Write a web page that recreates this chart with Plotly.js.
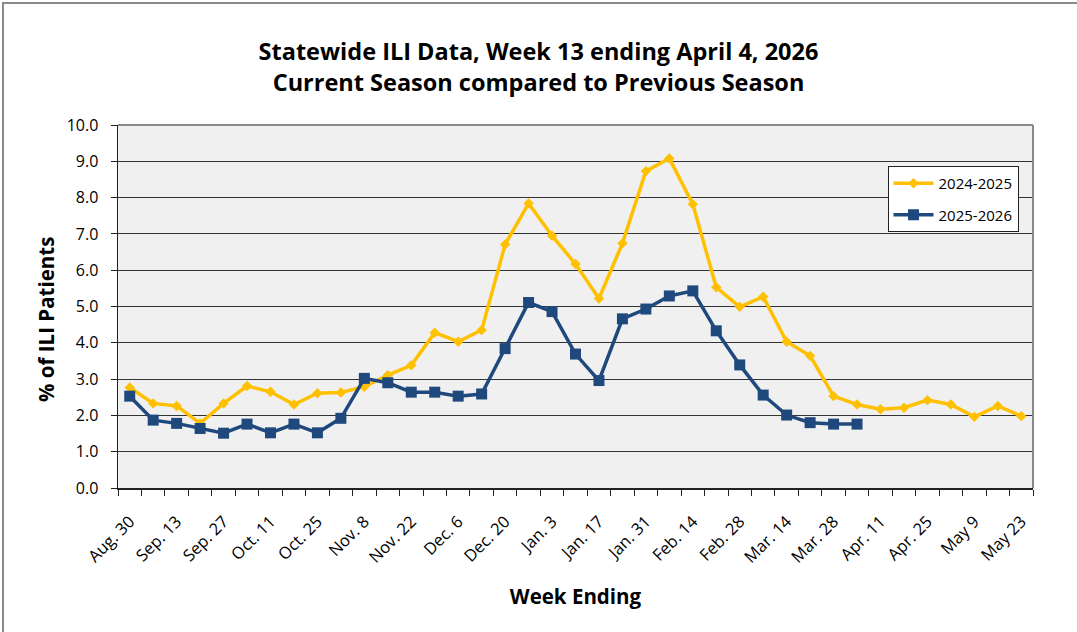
<!DOCTYPE html>
<html>
<head>
<meta charset="utf-8">
<script src="https://cdn.plot.ly/plotly-3.0.1.min.js"></script>
<style>
  html, body { margin: 0; padding: 0; background: #fff; }
  #wrap { position: relative; width: 1077px; height: 632px; }
  #chart { width: 1077px; height: 632px; }
  #frame { position: absolute; left: 2px; top: 2px; width: 1100px; height: 700px;
           border-left: 2px solid #8a8a8a; border-top: 2px solid #8a8a8a; pointer-events: none; }
</style>
</head>
<body>
<div id="wrap">
  <div id="chart"></div>
  <div id="frame"></div>
</div>
<script>
// week ending dates, Aug 30 .. May 23
const weeks = [
  'Aug. 30', 'Sep. 6', 'Sep. 13', 'Sep. 20', 'Sep. 27', 'Oct. 4', 'Oct. 11', 'Oct. 18', 'Oct. 25',
  'Nov. 1', 'Nov. 8', 'Nov. 15', 'Nov. 22', 'Nov. 29', 'Dec. 6', 'Dec. 13', 'Dec. 20', 'Dec. 27',
  'Jan. 3', 'Jan. 10', 'Jan. 17', 'Jan. 24', 'Jan. 31', 'Feb. 7', 'Feb. 14', 'Feb. 21', 'Feb. 28',
  'Mar. 7', 'Mar. 14', 'Mar. 21', 'Mar. 28', 'Apr. 4', 'Apr. 11', 'Apr. 18', 'Apr. 25',
  'May 2', 'May 9', 'May 16', 'May 23'
];

// previous season, % of ILI patients
const season2425 = [
  2.77, 2.33, 2.26, 1.78, 2.33, 2.81, 2.65, 2.30, 2.61,
  2.63, 2.79, 3.11, 3.38, 4.28, 4.03, 4.35, 6.71, 7.84,
  6.95, 6.17, 5.22, 6.74, 8.73, 9.08, 7.82, 5.53, 4.99,
  5.27, 4.03, 3.64, 2.53, 2.30, 2.17, 2.21, 2.42,
  2.30, 1.96, 2.26, 1.98
];

// current season (through week 13)
const season2526 = [
  2.53, 1.87, 1.78, 1.64, 1.51, 1.76, 1.52, 1.76, 1.52,
  1.92, 3.02, 2.90, 2.64, 2.64, 2.53, 2.59, 3.84, 5.11,
  4.86, 3.69, 2.96, 4.66, 4.93, 5.29, 5.43, 4.33, 3.39,
  2.56, 2.01, 1.80, 1.76, 1.76
];

const font = '"Open Sans", "DejaVu Sans", sans-serif';

const prevTrace = {
  x: weeks,
  y: season2425,
  type: 'scatter',
  mode: 'lines+markers',
  name: '2024-2025',
  legendgroup: 'prev',
  line: { color: '#FFC000', width: 3.5 },
  marker: { symbol: 'diamond', size: 8, color: '#FFC000' }
};

const currTrace = {
  x: weeks.slice(0, season2526.length),
  y: season2526,
  type: 'scatter',
  mode: 'lines+markers',
  name: '2025-2026',
  legendgroup: 'curr',
  line: { color: '#1F497D', width: 3.5 },
  marker: { symbol: 'square', size: 11, color: '#1F497D' }
};

const layout = {
  width: 1077,
  height: 632,
  paper_bgcolor: '#ffffff',
  plot_bgcolor: '#f0f0f0',
  margin: { l: 118, r: 44, t: 125, b: 144 },
  font: { family: font, color: '#000' },
  title: {
    text: '<b>Statewide ILI Data, Week 13 ending April 4, 2026<br>Current Season compared to Previous Season</b>',
    font: { family: font, size: 23.5, color: '#000' },
    x: 0.5, xanchor: 'center',
    y: 0.905, yanchor: 'top'
  },
  xaxis: {
    type: 'category',
    categoryorder: 'array',
    categoryarray: weeks,
    range: [-0.5, weeks.length - 0.5],
    tickson: 'boundaries',
    ticks: 'outside',
    ticklen: 6,
    tickcolor: '#222',
    ticklabelstep: 2,
    ticklabelstandoff: 16,
    tickangle: -45,
    tickfont: { family: font, size: 16.5, color: '#000' },
    showgrid: false,
    showline: true,
    linecolor: '#222',
    linewidth: 1.5,
    mirror: false,
    title: {
      text: '<b>Week Ending</b>',
      font: { family: font, size: 20.5, color: '#000' },
      standoff: 23
    }
  },
  yaxis: {
    range: [0, 10],
    dtick: 1,
    tickformat: '.1f',
    ticks: 'outside',
    ticklen: 6,
    ticklabelstandoff: 9,
    tickcolor: '#222',
    tickfont: { family: font, size: 16, color: '#000' },
    showgrid: true,
    gridcolor: '#333',
    gridwidth: 1,
    showline: true,
    linecolor: '#222',
    linewidth: 1.5,
    zeroline: false
  },
  annotations: [
    {
      text: '<b>% of ILI Patients</b>',
      xref: 'paper', yref: 'paper',
      x: (46 - 118) / 915, y: 0.463,
      xanchor: 'center', yanchor: 'middle',
      textangle: -90,
      showarrow: false,
      font: { family: font, size: 20.5, color: '#000' }
    }
  ],
  shapes: [
    // grey frame on top and right of plot area
    { type: 'line', xref: 'paper', yref: 'paper', x0: 0, x1: 1, y0: 1, y1: 1,
      line: { color: '#888', width: 2 } },
    { type: 'line', xref: 'paper', yref: 'paper', x0: 1, x1: 1, y0: 0, y1: 1,
      line: { color: '#888', width: 2 } }
  ],
  legend: {
    x: 0.841, y: 0.887,
    xanchor: 'left', yanchor: 'top',
    bgcolor: '#ffffff',
    bordercolor: '#222',
    borderwidth: 1,
    font: { family: font, size: 15, color: '#000' },
    traceorder: 'grouped',
    tracegroupgap: 9,
    itemwidth: 40
  },
  showlegend: true
};

Plotly.newPlot('chart', [prevTrace, currTrace], layout, { displayModeBar: false, staticPlot: true });
</script>
</body>
</html>
